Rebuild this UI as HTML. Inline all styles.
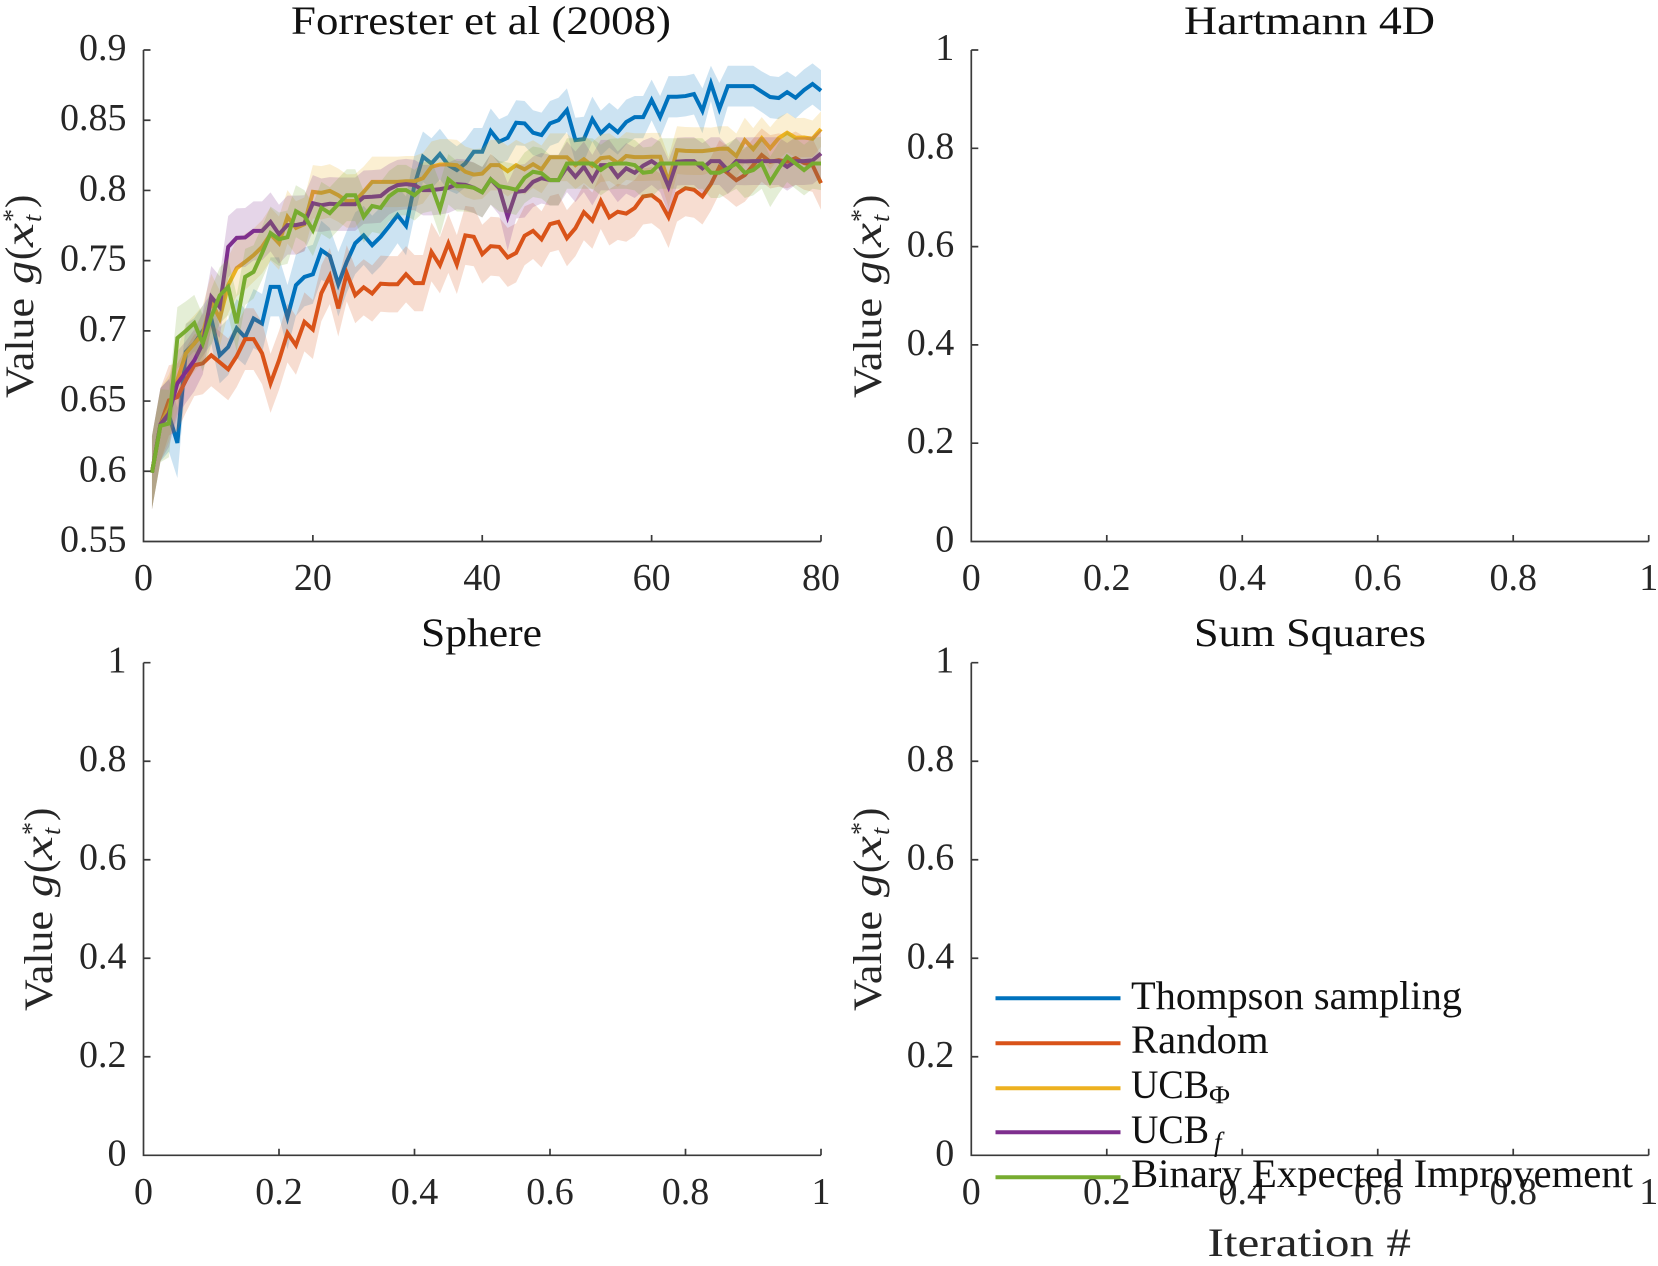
<!DOCTYPE html>
<html>
<head>
<meta charset="utf-8">
<title>Bayesian optimization value curves</title>
<style>
html,body{margin:0;padding:0;background:#fff;width:1658px;height:1266px;overflow:hidden}
svg{display:block}
text{font-family:"Liberation Serif",serif;font-size:38px;fill:#262626}
.big{font-size:40px}
.title{fill:#111}
.it{font-style:italic}
</style>
</head>
<body>
<svg id="figure" width="1658" height="1266" viewBox="0 0 1658 1266" xmlns="http://www.w3.org/2000/svg">
  <g id="marks"></g>

  <text class="title big" x="291" y="34" textLength="380" lengthAdjust="spacingAndGlyphs">Forrester et al (2008)</text>
  <text class="title big" x="1184" y="34" textLength="251" lengthAdjust="spacingAndGlyphs">Hartmann 4D</text>
  <text class="title big" x="421" y="646" textLength="121" lengthAdjust="spacingAndGlyphs">Sphere</text>
  <text class="title big" x="1194" y="646" textLength="232" lengthAdjust="spacingAndGlyphs">Sum Squares</text>

  <g transform="translate(33,398) rotate(-90)">
    <text class="big" x="0" y="0" textLength="100" lengthAdjust="spacingAndGlyphs">Value</text><text class="it big" x="114" y="0" textLength="23" lengthAdjust="spacingAndGlyphs">g</text><text class="big" x="138" y="0">(</text><text class="it big" x="151" y="0" textLength="24" lengthAdjust="spacingAndGlyphs">x</text><text x="176" y="-12" style="font-size:26px">*</text><text class="it" x="176" y="8" style="font-size:26px">t</text><text class="big" x="190" y="0">)</text>
  </g>
  <g transform="translate(881,398) rotate(-90)">
    <text class="big" x="0" y="0" textLength="100" lengthAdjust="spacingAndGlyphs">Value</text><text class="it big" x="114" y="0" textLength="23" lengthAdjust="spacingAndGlyphs">g</text><text class="big" x="138" y="0">(</text><text class="it big" x="151" y="0" textLength="24" lengthAdjust="spacingAndGlyphs">x</text><text x="176" y="-12" style="font-size:26px">*</text><text class="it" x="176" y="8" style="font-size:26px">t</text><text class="big" x="190" y="0">)</text>
  </g>
  <g transform="translate(52,1011) rotate(-90)">
    <text class="big" x="0" y="0" textLength="100" lengthAdjust="spacingAndGlyphs">Value</text><text class="it big" x="114" y="0" textLength="23" lengthAdjust="spacingAndGlyphs">g</text><text class="big" x="138" y="0">(</text><text class="it big" x="151" y="0" textLength="24" lengthAdjust="spacingAndGlyphs">x</text><text x="176" y="-12" style="font-size:26px">*</text><text class="it" x="176" y="8" style="font-size:26px">t</text><text class="big" x="190" y="0">)</text>
  </g>
  <g transform="translate(881,1011) rotate(-90)">
    <text class="big" x="0" y="0" textLength="100" lengthAdjust="spacingAndGlyphs">Value</text><text class="it big" x="114" y="0" textLength="23" lengthAdjust="spacingAndGlyphs">g</text><text class="big" x="138" y="0">(</text><text class="it big" x="151" y="0" textLength="24" lengthAdjust="spacingAndGlyphs">x</text><text x="176" y="-12" style="font-size:26px">*</text><text class="it" x="176" y="8" style="font-size:26px">t</text><text class="big" x="190" y="0">)</text>
  </g>

  <text class="big" x="1207.5" y="1256" textLength="203.5" lengthAdjust="spacingAndGlyphs">Iteration #</text>

  <g>
    <g>
      <line x1="995.5" x2="1120.5" y1="998.3" y2="998.3" stroke="#0072BD" stroke-width="4"/>
      <text class="title big" x="1131" y="1009" textLength="331" lengthAdjust="spacingAndGlyphs">Thompson sampling</text>
    </g>
    <g>
      <line x1="995.5" x2="1120.5" y1="1043.3" y2="1043.3" stroke="#D95319" stroke-width="4"/>
      <text class="title big" x="1131" y="1053" textLength="137.5" lengthAdjust="spacingAndGlyphs">Random</text>
    </g>
    <g>
      <line x1="995.5" x2="1120.5" y1="1088.3" y2="1088.3" stroke="#EDB120" stroke-width="4"/>
      <text class="title big" x="1131" y="1098" textLength="78" lengthAdjust="spacingAndGlyphs">UCB</text>
      <text class="title" x="1209" y="1103" style="font-size:25px" textLength="21" lengthAdjust="spacingAndGlyphs">Φ</text>
    </g>
    <g>
      <line x1="995.5" x2="1120.5" y1="1132.3" y2="1132.3" stroke="#7E2F8E" stroke-width="4"/>
      <text class="title big" x="1131" y="1143" textLength="78" lengthAdjust="spacingAndGlyphs">UCB</text>
      <text class="title it" x="1214" y="1151" style="font-size:27px">f</text>
    </g>
    <g>
      <line x1="995.5" x2="1120.5" y1="1177.3" y2="1177.3" stroke="#77AC30" stroke-width="4"/>
      <text class="title big" x="1131" y="1187" textLength="502" lengthAdjust="spacingAndGlyphs">Binary Expected Improvement</text>
    </g>
  </g>
</svg>

<script>
const iterationCount = 80;

const thompsonMean = [.599,.633,.640,.6202,.685,.691,.700,.7088,.6826,.6885,.7018,.6954,.7088,.7052,.7313,.7313,.7097,.7325,.7384,.7403,.7574,.7532,.7332,.7491,.7624,.768,.761,.767,.7745,.7824,.7748,.8038,.824,.8192,.8259,.818,.8145,.8192,.8275,.8275,.8423,.8347,.8375,.8482,.8477,.8411,.8394,.8477,.85,.8572,.8358,.8365,.8508,.8408,.8465,.8415,.8487,.8522,.8522,.8644,.8522,.8667,.8667,.8672,.8686,.8567,.8762,.858,.8743,.8743,.8743,.8743,.8703,.8665,.8658,.87,.866,.8715,.8758,.871];
const thompsonErr = [.026,.026,.026,.025,.02,.018,.018,.018,.02,.02,.021,.02,.021,.021,.021,.021,.023,.022,.021,.021,.021,.02,.023,.022,.022,.021,.021,.021,.021,.02,.021,.022,.018,.018,.018,.018,.017,.017,.017,.017,.016,.016,.016,.016,.016,.016,.016,.016,.016,.0155,.016,.016,.016,.016,.016,.016,.016,.015,.015,.0145,.015,.0147,.0147,.0145,.0145,.016,.0126,.0185,.0145,.0145,.0145,.0145,.0145,.015,.015,.0148,.0148,.0147,.0147,.0147];

const randomMean = [.599,.633,.6505,.6529,.6648,.6755,.6769,.6826,.6776,.6726,.6819,.6941,.6941,.684,.6626,.679,.6985,.6897,.7064,.701,.7268,.739,.716,.741,.7254,.731,.7266,.7336,.7332,.7332,.7403,.734,.734,.7562,.7467,.7623,.7472,.768,.767,.7546,.7603,.7598,.7523,.7555,.7677,.7712,.7652,.776,.7776,.766,.7731,.7845,.7785,.7925,.7808,.7848,.7835,.7875,.7957,.7966,.792,.781,.7978,.8016,.8005,.7957,.8045,.8167,.8123,.8073,.8109,.818,.8252,.8204,.8216,.8205,.823,.8195,.818,.8052];
const randomErr = [.026,.026,.025,.024,.023,.022,.022,.022,.022,.022,.022,.022,.022,.022,.021,.021,.021,.021,.021,.021,.02,.02,.02,.02,.02,.02,.02,.02,.02,.02,.02,.02,.02,.021,.02,.021,.021,.021,.021,.021,.021,.021,.021,.021,.021,.02,.02,.02,.02,.02,.02,.02,.02,.02,.02,.02,.02,.02,.02,.02,.02,.022,.02,.02,.02,.02,.019,.019,.019,.019,.019,.019,.019,.019,.019,.019,.019,.019,.019,.019];

const ucbPhiMean = [.599,.633,.645,.6648,.684,.691,.698,.7206,.7088,.7325,.7446,.7491,.7539,.7598,.7688,.7624,.7812,.7733,.776,.799,.7983,.7997,.7966,.7924,.7926,.799,.8061,.8061,.8061,.8061,.8065,.8065,.8087,.8168,.8185,.8185,.818,.8133,.8113,.812,.818,.818,.8137,.818,.815,.8187,.815,.8236,.8236,.8236,.818,.8222,.8175,.823,.8237,.8195,.8245,.8237,.8237,.824,.824,.8061,.8287,.8282,.828,.828,.8287,.8297,.8297,.8245,.8358,.8294,.8372,.83,.8372,.8411,.8375,.8377,.8368,.8437];
const ucbPhiErr = [.026,.026,.024,.022,.021,.02,.02,.02,.02,.02,.02,.02,.019,.019,.019,.019,.019,.019,.019,.019,.019,.019,.019,.019,.019,.018,.018,.018,.018,.018,.018,.018,.018,.018,.018,.018,.018,.018,.018,.018,.018,.018,.018,.018,.018,.017,.017,.017,.017,.017,.017,.017,.017,.017,.017,.017,.017,.017,.017,.017,.017,.018,.017,.017,.017,.017,.016,.016,.016,.016,.016,.015,.015,.015,.015,.014,.014,.014,.013,.0126];

const ucbFMean = [.599,.6334,.6413,.6626,.6707,.679,.691,.7242,.717,.7598,.7662,.7665,.7712,.7712,.7776,.7688,.7753,.7753,.7766,.7909,.7895,.7905,.7902,.7902,.7902,.7952,.7955,.796,.8009,.8038,.8045,.8038,.8002,.8002,.8009,.8019,.8045,.804,.8019,.7987,.8079,.8016,.7812,.799,.7997,.8061,.8087,.8073,.8073,.8168,.8097,.8168,.8073,.818,.818,.8097,.8157,.8126,.8176,.8209,.8168,.8026,.8205,.8209,.8209,.8157,.8209,.8209,.8145,.8209,.8207,.8209,.8209,.8209,.8209,.8168,.8209,.8209,.8214,.8263];
const ucbFErr = [.026,.026,.024,.023,.022,.022,.022,.022,.022,.022,.021,.021,.021,.021,.021,.021,.021,.021,.02,.02,.019,.019,.019,.019,.019,.019,.019,.019,.018,.018,.018,.018,.018,.018,.018,.018,.018,.018,.018,.018,.018,.019,.024,.019,.019,.018,.018,.018,.018,.018,.018,.018,.018,.018,.018,.018,.018,.018,.018,.017,.018,.019,.017,.017,.017,.018,.017,.017,.017,.017,.017,.017,.017,.017,.017,.017,.017,.017,.017,.017];

const binaryEiMean = [.599,.6324,.634,.6949,.70,.7056,.6911,.7099,.7252,.7313,.7054,.7384,.742,.7553,.7696,.7653,.7667,.7852,.7817,.7717,.7876,.7838,.7902,.7966,.7966,.7812,.7889,.7876,.7959,.8002,.8002,.7966,.8019,.8033,.7866,.8079,.803,.803,.8019,.7987,.8079,.803,.8019,.8005,.809,.8133,.8122,.8073,.8073,.8192,.8192,.8192,.8192,.8145,.8187,.8192,.8192,.818,.8126,.8133,.8192,.8192,.8192,.8192,.8192,.8192,.8126,.8126,.8157,.8192,.8126,.8145,.8192,.8061,.8157,.824,.8192,.8145,.8192,.8192];
const binaryEiErr = [.026,.026,.024,.022,.021,.02,.02,.02,.02,.02,.02,.02,.019,.019,.019,.019,.019,.0185,.0185,.0185,.0185,.0185,.0185,.0185,.0185,.0185,.0185,.0185,.018,.018,.018,.018,.018,.018,.019,.018,.018,.018,.018,.018,.018,.018,.018,.018,.018,.018,.018,.018,.018,.018,.018,.018,.018,.018,.018,.018,.018,.018,.018,.018,.018,.018,.018,.018,.018,.018,.018,.018,.018,.018,.018,.018,.018,.018,.018,.018,.018,.018,.018,.019];

const seriesKeys = ['thompson','random','ucb-phi','ucb-f','binary-ei'];
const seriesColors = ['#0072BD','#D95319','#EDB120','#7E2F8E','#77AC30'];
const seriesMeans = [thompsonMean, randomMean, ucbPhiMean, ucbFMean, binaryEiMean];
const seriesErrs = [thompsonErr, randomErr, ucbPhiErr, ucbFErr, binaryEiErr];

const forresterYTicks = [0.55,0.6,0.65,0.7,0.75,0.8,0.85,0.9];
const forresterYLabels = ['0.55','0.6','0.65','0.7','0.75','0.8','0.85','0.9'];
const forresterXTicks = [0,20,40,60,80];
const forresterXLabels = ['0','20','40','60','80'];
const unitTicks = [0,0.2,0.4,0.6,0.8,1];
const unitLabels = ['0','0.2','0.4','0.6','0.8','1'];

const SVGNS = 'http://www.w3.org/2000/svg';
const root = document.getElementById('marks');

function makeAxes(left, right, top, bottom, xMin, xMax, yMin, yMax) {
  return {
    left, right, top, bottom,
    x: v => left + (v - xMin) / (xMax - xMin) * (right - left),
    y: v => bottom - (v - yMin) / (yMax - yMin) * (bottom - top)
  };
}

function drawAxes(ax, key, xTicks, xLabels, yTicks, yLabels) {
  const g = document.createElementNS(SVGNS, 'g');
  
  
  const d = [
    'M' + ax.left + ' ' + ax.top + 'V' + ax.bottom + 'H' + ax.right
  ];
  xTicks.forEach(t => d.push('M' + ax.x(t) + ' ' + ax.bottom + 'v-6.5'));
  yTicks.forEach(t => d.push('M' + ax.left + ' ' + ax.y(t) + 'h7'));
  const path = document.createElementNS(SVGNS, 'path');
  
  
  path.setAttribute('d', d.join(''));
  path.setAttribute('fill', 'none');
  path.setAttribute('stroke', '#3a3a3a');
  path.setAttribute('stroke-width', '1.7');
  g.appendChild(path);
  xTicks.forEach((t, i) => {
    const label = document.createElementNS(SVGNS, 'text');
    
    
    label.setAttribute('x', ax.x(t));
    label.setAttribute('y', ax.bottom + 48.5);
    label.setAttribute('text-anchor', 'middle');
    label.textContent = xLabels[i];
    g.appendChild(label);
  });
  yTicks.forEach((t, i) => {
    const label = document.createElementNS(SVGNS, 'text');
    
    
    label.setAttribute('x', ax.left - 17);
    label.setAttribute('y', ax.y(t) + 10);
    label.setAttribute('text-anchor', 'end');
    label.textContent = yLabels[i];
    g.appendChild(label);
  });
  root.appendChild(g);
}

function drawSeries(ax) {
  seriesMeans.forEach((mean, s) => {
    const upper = mean.map((m, i) => ax.x(i + 1).toFixed(2) + ',' + ax.y(m + seriesErrs[s][i]).toFixed(2));
    const lower = mean.map((m, i) => ax.x(i + 1).toFixed(2) + ',' + ax.y(m - seriesErrs[s][i]).toFixed(2)).reverse();
    const band = document.createElementNS(SVGNS, 'polygon');
    
    
    band.setAttribute('points', upper.concat(lower).join(' '));
    band.setAttribute('fill', seriesColors[s]);
    band.setAttribute('fill-opacity', '0.2');
    root.appendChild(band);
    const line = document.createElementNS(SVGNS, 'polyline');
    
    
    line.setAttribute('points', mean.map((m, i) => ax.x(i + 1).toFixed(2) + ',' + ax.y(m).toFixed(2)).join(' '));
    line.setAttribute('fill', 'none');
    line.setAttribute('stroke', seriesColors[s]);
    line.setAttribute('stroke-width', '4');
    line.setAttribute('stroke-linejoin', 'miter');
    root.appendChild(line);
  });
}

const forresterAxes = makeAxes(143.5, 821, 50, 541.5, 0, iterationCount, 0.55, 0.9);
const hartmannAxes = makeAxes(971.3, 1648.7, 50, 541.5, 0, 1, 0, 1);
const sphereAxes = makeAxes(143.5, 821, 662.7, 1155.3, 0, 1, 0, 1);
const sumSquaresAxes = makeAxes(971.3, 1648.7, 662.7, 1155.3, 0, 1, 0, 1);

drawSeries(forresterAxes);
drawAxes(forresterAxes, 'forrester', forresterXTicks, forresterXLabels, forresterYTicks, forresterYLabels);
drawAxes(hartmannAxes, 'hartmann', unitTicks, unitLabels, unitTicks, unitLabels);
drawAxes(sphereAxes, 'sphere', unitTicks, unitLabels, unitTicks, unitLabels);
drawAxes(sumSquaresAxes, 'sum-squares', unitTicks, unitLabels, unitTicks, unitLabels);
</script>
</body>
</html>
